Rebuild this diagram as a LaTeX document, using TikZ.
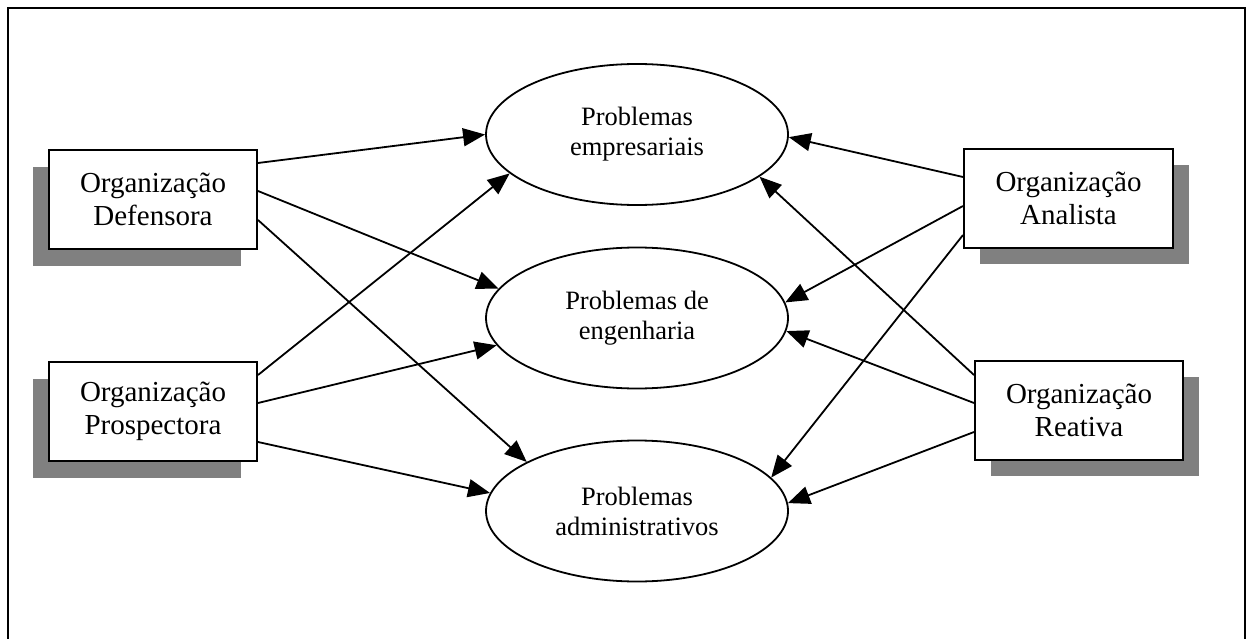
\documentclass[tikz,border=0pt]{standalone}
\usepackage{fontspec}
\setmainfont{Liberation Serif}
\usetikzlibrary{arrows.meta,shapes.geometric,shadows}
\begin{document}
\begin{tikzpicture}[x=1pt,y=-1pt,
  orgbox/.style={draw, line width=2pt, fill=white, minimum width=208pt,
    minimum height=99pt, inner sep=0pt, align=center,
    font=\fontsize{29}{33}\selectfont},
  leftshadow/.style={drop shadow={shadow xshift=-16pt, shadow yshift=-17pt,
    fill=black!50, opacity=1}},
  rightshadow/.style={drop shadow={shadow xshift=16pt, shadow yshift=-16pt,
    fill=black!50, opacity=1}},
  problem/.style={draw, ellipse, line width=1.8pt, minimum width=302pt,
    minimum height=141pt, inner sep=0pt, align=center,
    font=\fontsize{26.5}{30}\selectfont},
  link/.style={line width=1.8pt, -{Triangle[length=22pt,width=18pt]}}
]
\useasboundingbox (0,0) rectangle (1249,639);
\clip (0,0) rectangle (1249,639);

% outer frame, open below
\draw[line width=2pt] (8,660) -- (8,8) -- (1245,8) -- (1245,660);

% organisation types
\node[orgbox, leftshadow] (def) at (153,199.5) {Organização\\Defensora};
\node[orgbox, leftshadow] (pro) at (153,411.5) {Organização\\Prospectora};
\node[orgbox, rightshadow, minimum width=209pt] (ana) at (1068.5,198.5) {Organização\\Analista};
\node[orgbox, rightshadow] (rea) at (1079,410) {Organização\\Reativa};

% problem areas
\node[problem] (emp) at (637,134.5) {Problemas\\empresariais};
\node[problem] (eng) at (637,318) {Problemas de\\engenharia};
\node[problem] (adm) at (637,511) {Problemas\\administrativos};

% left-hand links
\draw[link] ([yshift=36.5pt]def.east) -- (emp.180);
\draw[link] ([yshift=8.5pt]def.east) -- (eng.168);
\draw[link] ([yshift=-20.5pt]def.east) -- (adm.156);
\draw[link] ([yshift=36.5pt]pro.east) -- (emp.197);
\draw[link] ([yshift=8.5pt]pro.east) -- (eng.191);
\draw[link] ([yshift=-30.5pt]pro.east) -- (adm.173);

% right-hand links
\draw[link] ([yshift=21.5pt]ana.west) -- (emp.-1);
\draw[link] ([yshift=-7.5pt]ana.west) -- (eng.6);
\draw[link] ([yshift=-36.5pt]ana.west) -- (adm.14);
\draw[link] ([yshift=35pt]rea.west) -- (emp.-19.5);
\draw[link] ([yshift=7pt]rea.west) -- (eng.-5.7);
\draw[link] ([yshift=-22pt]rea.west) -- (adm.3.4);
\end{tikzpicture}
\end{document}
